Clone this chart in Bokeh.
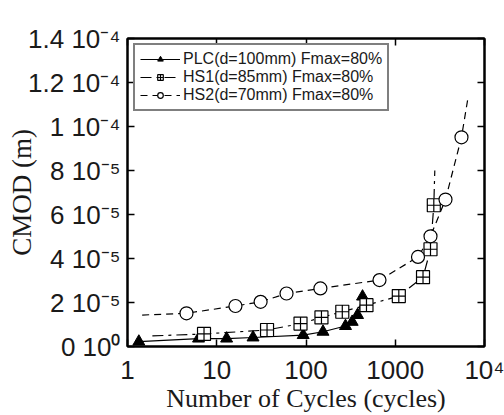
from bokeh.plotting import figure
from bokeh.models import FixedTicker, CustomJSTickFormatter, LinearAxis, LogAxis
from bokeh.embed import file_html
from bokeh.resources import INLINE

# ---- data ----
plc_cycles = [1.34, 6.25, 12.9, 25.5, 93, 155, 277, 329, 378, 430]
plc_cmod = [2.2e-6, 3.6e-6, 3.6e-6, 4.1e-6, 5.2e-6, 6.7e-6, 9.3e-6, 11.2e-6, 14.3e-6, 22.7e-6]

hs1_cycles = [7.2, 36.6, 86.8, 149, 255, 476, 1096, 2047, 2483, 2704]
hs1_cmod = [5.7e-6, 7.5e-6, 10.4e-6, 13.2e-6, 15.8e-6, 18.8e-6, 22.9e-6, 31.5e-6, 44.2e-6, 64.2e-6]
hs1_curve_cycles = [1.9, 7.2, 36.6, 86.8, 149, 255, 476, 1096, 2047, 2483, 2704, 2774]
hs1_curve_cmod = [4.8e-6, 5.7e-6, 7.5e-6, 10.4e-6, 13.2e-6, 15.8e-6, 18.8e-6, 22.9e-6, 31.5e-6, 44.2e-6, 64.2e-6, 80e-6]

hs2_cycles = [4.58, 16.2, 31, 60.5, 145, 666, 1798, 2483, 3656, 5521]
hs2_cmod = [15.1e-6, 18.4e-6, 20.3e-6, 24.1e-6, 26.4e-6, 30.2e-6, 40.7e-6, 50.1e-6, 66.8e-6, 95.1e-6]
hs2_curve_cycles = [1.46, 4.58, 16.2, 31, 60.5, 145, 666, 1798, 2483, 3656, 5521, 6503]
hs2_curve_cmod = [14.3e-6, 15.1e-6, 18.4e-6, 20.3e-6, 24.1e-6, 26.4e-6, 30.2e-6, 40.7e-6, 50.1e-6, 66.8e-6, 95.1e-6, 112.6e-6]

x_ticks = [1, 10, 100, 1000, 10000]
x_tick_labels = ["1", "10", "100", "1000", "10\u2074"]
y_ticks = [0, 2e-5, 4e-5, 6e-5, 8e-5, 1e-4, 1.2e-4, 1.4e-4]
y_tick_labels = ["0 10\u2070", "2 10\u207b\u2075", "4 10\u207b\u2075", "6 10\u207b\u2075",
                 "8 10\u207b\u2075", "1 10\u207b\u2074", "1.2 10\u207b\u2074", "1.4 10\u207b\u2074"]

labels = ["PLC(d=100mm) Fmax=80%", "HS1(d=85mm) Fmax=80%", "HS2(d=70mm) Fmax=80%"]

SANS = "Liberation Sans"
SERIF = "Liberation Serif"
INK = "#1a1a1a"

p = figure(width=504, height=415, x_axis_type="log", x_range=(1, 1e4), y_range=(0, 1.4e-4),
           output_backend="svg", toolbar_location=None,
           min_border_left=127, min_border_right=20, min_border_top=38, min_border_bottom=68)
p.grid.visible = False
p.outline_line_color = "black"
p.outline_line_width = 2
p.background_fill_color = "white"

fmt_code = """
for (let i = 0; i < tvals.length; i++) {
  if (Math.abs(tvals[i] - tick) <= 1e-9 * Math.max(Math.abs(tvals[i]), 1e-30)) return tlabels[i];
}
return "";
"""

def style_axis(ax, ticks, tick_labels, show_labels=True):
    ax.ticker = FixedTicker(ticks=ticks)
    ax.formatter = CustomJSTickFormatter(args=dict(tvals=ticks, tlabels=tick_labels), code=fmt_code)
    ax.axis_line_color = "black"
    ax.axis_line_width = 2
    ax.major_tick_in = 7
    ax.major_tick_out = 0
    ax.major_tick_line_width = 1.5
    ax.minor_tick_line_color = None
    ax.major_label_text_font = SANS
    ax.major_label_text_color = INK
    if show_labels:
        ax.major_label_text_font_size = "26px"
    else:
        ax.major_label_text_font_size = "0px"
        ax.major_label_standoff = 0

style_axis(p.xaxis[0], x_ticks, x_tick_labels)
style_axis(p.yaxis[0], y_ticks, y_tick_labels)
p.xaxis[0].major_label_standoff = 8
p.yaxis[0].major_label_standoff = 7

p.xaxis[0].axis_label = "Number of Cycles (cycles)"
p.xaxis[0].axis_label_text_font = SERIF
p.xaxis[0].axis_label_text_font_style = "normal"
p.xaxis[0].axis_label_text_font_size = "26px"
p.xaxis[0].axis_label_text_color = INK
p.xaxis[0].axis_label_standoff = -4

p.yaxis[0].axis_label = "CMOD (m)"
p.yaxis[0].axis_label_text_font = SERIF
p.yaxis[0].axis_label_text_font_style = "normal"
p.yaxis[0].axis_label_text_font_size = "27px"
p.yaxis[0].axis_label_text_color = INK
p.yaxis[0].axis_label_standoff = -12

right = LinearAxis()
style_axis(right, y_ticks, [""] * len(y_ticks), show_labels=False)
p.add_layout(right, "right")
top = LogAxis()
style_axis(top, x_ticks, [""] * len(x_ticks), show_labels=False)
p.add_layout(top, "above")

# curves
p.line(plc_cycles, plc_cmod, line_color="black", line_width=1.2, legend_label=labels[0])
p.line(hs1_curve_cycles, hs1_curve_cmod, line_color="black", line_width=1.2,
       line_dash="11 5 3 5", legend_label=labels[1])
p.line(hs2_curve_cycles, hs2_curve_cmod, line_color="black", line_width=1.2,
       line_dash="7 5", legend_label=labels[2])

# markers
p.scatter(plc_cycles, plc_cmod, marker="triangle", size=12, fill_color="black",
          line_color="black", legend_label=labels[0])
p.scatter(hs1_cycles, hs1_cmod, marker="square_cross", size=13, fill_color="white",
          line_color="black", line_width=1.2, legend_label=labels[1])
p.scatter(hs2_cycles, hs2_cmod, marker="circle", size=13, fill_color="white",
          line_color="black", line_width=1.2, legend_label=labels[2])

lg = p.legend[0]
lg.location = (6, 235)
lg.margin = 0
lg.padding = 5
lg.spacing = 0
lg.label_text_font = SANS
lg.label_text_font_size = "16px"
lg.label_text_line_height = 0.95
lg.label_text_color = INK
lg.glyph_width = 40
lg.glyph_height = 14
lg.label_height = 14
lg.label_standoff = 3
lg.border_line_color = "black"
lg.border_line_width = 2
lg.background_fill_color = "white"
lg.background_fill_alpha = 1.0

open("out.html", "w").write(file_html(p, INLINE))
